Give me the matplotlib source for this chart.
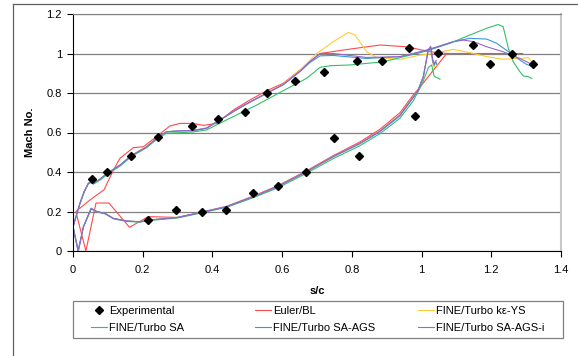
import matplotlib
matplotlib.use("Agg")
import matplotlib.pyplot as plt
from matplotlib.lines import Line2D
from matplotlib.patches import Rectangle

plt.rcParams["font.family"] = ["Liberation Sans", "DejaVu Sans"]

# experimental data (suction side, then pressure side)
exp_x = [0.054, 0.098, 0.167, 0.245, 0.342, 0.415, 0.493, 0.556, 0.638, 0.720,
         0.815, 0.886, 0.965, 1.047, 1.147, 1.197, 1.259, 1.320,
         0.215, 0.295, 0.369, 0.440, 0.517, 0.588, 0.668, 0.748, 0.820, 0.980]
exp_y = [0.363, 0.400, 0.483, 0.579, 0.631, 0.667, 0.705, 0.802, 0.862, 0.906,
         0.962, 0.960, 1.026, 1.004, 1.043, 0.945, 0.997, 0.947,
         0.155, 0.208, 0.196, 0.209, 0.295, 0.327, 0.400, 0.574, 0.483, 0.682]

# Euler/BL
euler_lo_x = [0.008, 0.037, 0.066, 0.103, 0.162, 0.216, 0.30, 0.369, 0.44, 0.517,
              0.588, 0.668, 0.747, 0.823, 0.881, 0.938, 0.976, 1.0, 1.072]
euler_lo_y = [0.20, 0.0, 0.243, 0.243, 0.12, 0.174, 0.170, 0.197, 0.226, 0.278,
              0.331, 0.404, 0.483, 0.552, 0.617, 0.70, 0.79, 0.84, 1.0]
euler_up_x = [0.008, 0.05, 0.089, 0.116, 0.135, 0.173, 0.202, 0.24, 0.278, 0.307,
              0.345, 0.374, 0.412, 0.46, 0.508, 0.556, 0.603, 0.651, 0.709, 0.785,
              0.881, 0.957, 1.024, 1.072, 1.29]
euler_up_y = [0.20, 0.26, 0.31, 0.41, 0.47, 0.523, 0.528, 0.58, 0.633, 0.646,
              0.646, 0.636, 0.646, 0.714, 0.765, 0.812, 0.849, 0.916, 1.0, 1.02,
              1.043, 1.034, 1.009, 1.0, 1.0]

# FINE/Turbo k-eps YS
ke_lo_x = [0.0, 0.015, 0.03, 0.052, 0.068, 0.092, 0.116, 0.154, 0.192, 0.221, 0.30,
           0.369, 0.44, 0.517, 0.588, 0.668, 0.747, 0.823, 0.881, 0.938, 0.976,
           0.99, 1.005, 1.019, 1.026, 1.032, 1.036, 1.041, 1.046]
ke_lo_y = [0.123, 0.0, 0.123, 0.216, 0.20, 0.19, 0.165, 0.152, 0.148, 0.157, 0.170,
           0.196, 0.224, 0.275, 0.327, 0.400, 0.478, 0.545, 0.609, 0.689, 0.781,
           0.815, 0.883, 1.018, 1.034, 0.95, 0.93, 0.955, 0.935]
ke_up_x = [0.0, 0.02, 0.032, 0.044, 0.052, 0.058, 0.077, 0.098, 0.135, 0.167, 0.21,
           0.245, 0.269, 0.307, 0.345, 0.383, 0.422, 0.46, 0.498, 0.556, 0.603,
           0.651, 0.699, 0.747, 0.79, 0.809, 0.842, 0.871, 0.938, 0.995, 1.034,
           1.091, 1.139, 1.187, 1.234, 1.282, 1.306, 1.316]
ke_up_y = [0.123, 0.241, 0.30, 0.343, 0.351, 0.343, 0.363, 0.393, 0.435, 0.483, 0.53,
           0.579, 0.604, 0.608, 0.609, 0.621, 0.663, 0.705, 0.744, 0.800, 0.845,
           0.916, 1.0, 1.06, 1.107, 1.094, 1.009, 0.98, 0.97, 0.992, 1.0,
           1.021, 1.004, 0.984, 0.971, 0.975, 0.979, 0.958]

# FINE/Turbo SA
sa_lo_x = [0.0, 0.015, 0.03, 0.052, 0.068, 0.092, 0.116, 0.154, 0.192, 0.221, 0.30,
           0.369, 0.44, 0.517, 0.588, 0.668, 0.747, 0.823, 0.881, 0.938, 0.976,
           1.0, 1.02, 1.029, 1.036, 1.053]
sa_lo_y = [0.123, 0.0, 0.123, 0.212, 0.198, 0.188, 0.163, 0.150, 0.146, 0.155, 0.167,
           0.193, 0.221, 0.270, 0.320, 0.392, 0.468, 0.533, 0.595, 0.672, 0.760,
           0.84, 0.93, 0.942, 0.885, 0.87]
sa_up_x = [0.0, 0.02, 0.032, 0.044, 0.052, 0.058, 0.077, 0.098, 0.135, 0.167, 0.21,
           0.245, 0.269, 0.307, 0.345, 0.383, 0.45, 0.527, 0.594, 0.67, 0.709,
           0.737, 0.795, 0.89, 0.986, 1.081, 1.139, 1.187, 1.22, 1.234, 1.249,
           1.263, 1.282, 1.292, 1.306, 1.316]
sa_up_y = [0.123, 0.241, 0.30, 0.34, 0.347, 0.338, 0.358, 0.388, 0.43, 0.478, 0.522,
           0.572, 0.597, 0.599, 0.603, 0.613, 0.672, 0.739, 0.803, 0.874, 0.93,
           0.938, 0.942, 0.958, 1.0, 1.051, 1.094, 1.128, 1.147, 1.136, 1.026,
           0.958, 0.908, 0.886, 0.883, 0.874]

# FINE/Turbo SA-AGS
ags_lo_x = [0.0, 0.015, 0.03, 0.052, 0.068, 0.092, 0.116, 0.154, 0.192, 0.221, 0.30,
            0.369, 0.44, 0.517, 0.588, 0.668, 0.747, 0.823, 0.881, 0.938, 0.976,
            0.99, 1.005, 1.019, 1.026, 1.032, 1.036, 1.040, 1.044]
ags_lo_y = [0.123, 0.0, 0.123, 0.216, 0.20, 0.19, 0.165, 0.152, 0.148, 0.157, 0.170,
            0.196, 0.224, 0.275, 0.327, 0.400, 0.478, 0.543, 0.605, 0.684, 0.776,
            0.812, 0.880, 1.015, 1.032, 0.96, 0.94, 0.96, 0.945]
ags_up_x = [0.0, 0.02, 0.032, 0.044, 0.052, 0.058, 0.077, 0.098, 0.135, 0.167, 0.21,
            0.245, 0.269, 0.307, 0.345, 0.383, 0.422, 0.46, 0.498, 0.556, 0.603,
            0.651, 0.68, 0.709, 0.747, 0.842, 0.938, 1.015, 1.091, 1.139, 1.187,
            1.215, 1.259, 1.282, 1.301, 1.32]
ags_up_y = [0.123, 0.241, 0.30, 0.343, 0.351, 0.343, 0.363, 0.393, 0.435, 0.483, 0.525,
            0.579, 0.604, 0.608, 0.609, 0.621, 0.663, 0.705, 0.744, 0.798, 0.841,
            0.908, 0.955, 0.988, 0.99, 0.975, 0.984, 1.013, 1.06, 1.077, 1.073,
            1.052, 0.997, 0.967, 0.945, 0.933]

# FINE/Turbo SA-AGS-i
agsi_lo_x = [0.0, 0.015, 0.03, 0.052, 0.068, 0.092, 0.116, 0.154, 0.192, 0.221, 0.30,
             0.369, 0.44, 0.517, 0.588, 0.668, 0.747, 0.823, 0.881, 0.938, 0.976,
             0.99, 1.005, 1.019, 1.026, 1.032, 1.037, 1.042]
agsi_lo_y = [0.123, 0.0, 0.123, 0.216, 0.20, 0.19, 0.165, 0.152, 0.148, 0.157, 0.170,
             0.196, 0.224, 0.275, 0.327, 0.400, 0.478, 0.545, 0.608, 0.688, 0.780,
             0.815, 0.883, 1.018, 1.036, 0.97, 0.95, 0.965]
agsi_up_x = [0.0, 0.02, 0.032, 0.044, 0.052, 0.058, 0.077, 0.098, 0.135, 0.167, 0.21,
             0.245, 0.269, 0.307, 0.345, 0.383, 0.422, 0.46, 0.498, 0.556, 0.603,
             0.651, 0.68, 0.709, 0.747, 0.842, 0.938, 1.015, 1.091, 1.12, 1.149,
             1.187, 1.234, 1.282, 1.32]
agsi_up_y = [0.123, 0.241, 0.30, 0.343, 0.351, 0.343, 0.363, 0.393, 0.435, 0.483, 0.525,
             0.579, 0.604, 0.609, 0.611, 0.623, 0.665, 0.707, 0.746, 0.80, 0.843,
             0.91, 0.96, 1.0, 1.0, 0.98, 0.984, 1.018, 1.06, 1.068, 1.06,
             1.034, 1.009, 0.975, 0.942]

series = [
    ("Euler/BL", euler_lo_x, euler_lo_y, euler_up_x, euler_up_y, "#ff4a4a"),
    ("FINE/Turbo k\u03b5-YS", ke_lo_x, ke_lo_y, ke_up_x, ke_up_y, "#ffcc33"),
    ("FINE/Turbo SA", sa_lo_x, sa_lo_y, sa_up_x, sa_up_y, "#33c06a"),
    ("FINE/Turbo SA-AGS", ags_lo_x, ags_lo_y, ags_up_x, ags_up_y, "#3a96dc"),
    ("FINE/Turbo SA-AGS-i", agsi_lo_x, agsi_lo_y, agsi_up_x, agsi_up_y, "#9966cc"),
]

fig = plt.figure(figsize=(5.78, 3.56), dpi=100)
ax = fig.add_axes([73 / 578, 1 - 251 / 356, 488 / 578, 237 / 356])

handles = []
for name, lx, ly, ux, uy, col in series:
    # one closed loop: pressure side reversed, then suction side
    xs = lx[::-1] + ux
    ys = ly[::-1] + uy
    h, = ax.plot(xs, ys, color=col, lw=0.8, label=name)
    handles.append(h)

hexp, = ax.plot(exp_x, exp_y, "D", color="black", ms=4.5, ls="none",
                label="Experimental", zorder=5)

ax.set_xlim(0, 1.4)
ax.set_ylim(0, 1.2)
ax.set_xticks([0, 0.2, 0.4, 0.6, 0.8, 1.0, 1.2, 1.4])
ax.set_xticklabels(["0", "0.2", "0.4", "0.6", "0.8", "1", "1.2", "1.4"])
ax.set_yticks([0, 0.2, 0.4, 0.6, 0.8, 1.0, 1.2])
ax.set_yticklabels(["0", "0.2", "0.4", "0.6", "0.8", "1", "1.2"])
ax.tick_params(direction="out", length=4, width=0.8, labelsize=8)
ax.tick_params(axis="x", pad=6)
ax.tick_params(axis="y", pad=4)
ax.yaxis.grid(True, color="#808080", lw=0.9)
ax.set_axisbelow(True)
ax.spines["left"].set_color("black")
ax.spines["bottom"].set_color("black")
ax.spines["top"].set_color("#808080")
ax.spines["right"].set_color("#c8c8c8")
ax.spines["right"].set_linewidth(1.5)
ax.set_xlabel("s/c", fontsize=8, fontweight="bold", labelpad=8)
ax.set_ylabel("Mach No.", fontsize=8, fontweight="bold", labelpad=8)

# legend: one small legend per column so each column starts where it should
columns = [(91, [hexp, handles[2]]),
           (255, [handles[0], handles[3]]),
           (418, [handles[1], handles[4]])]
for left_px, hs in columns:
    leg = fig.legend(hs, [h.get_label() for h in hs], loc="center left",
                     bbox_to_anchor=(left_px / 578, 1 - 319.5 / 356),
                     fontsize=8, handlelength=1.45, handletextpad=0.15,
                     borderaxespad=0, borderpad=0, labelspacing=0.62,
                     frameon=False)
fig.add_artist(Rectangle((73 / 578, 1 - 338 / 356), 490 / 578, 37 / 356,
                         transform=fig.transFigure, fill=False,
                         edgecolor="#808080", lw=0.9))

# outer chart border
fig.add_artist(Line2D([13 / 578, 13 / 578], [0, 1 - 4 / 356], color="#606060", lw=0.9))
fig.add_artist(Line2D([13 / 578, 1], [1 - 4 / 356, 1 - 4 / 356], color="#606060", lw=0.9))

fig.savefig("out.png", dpi=100)
